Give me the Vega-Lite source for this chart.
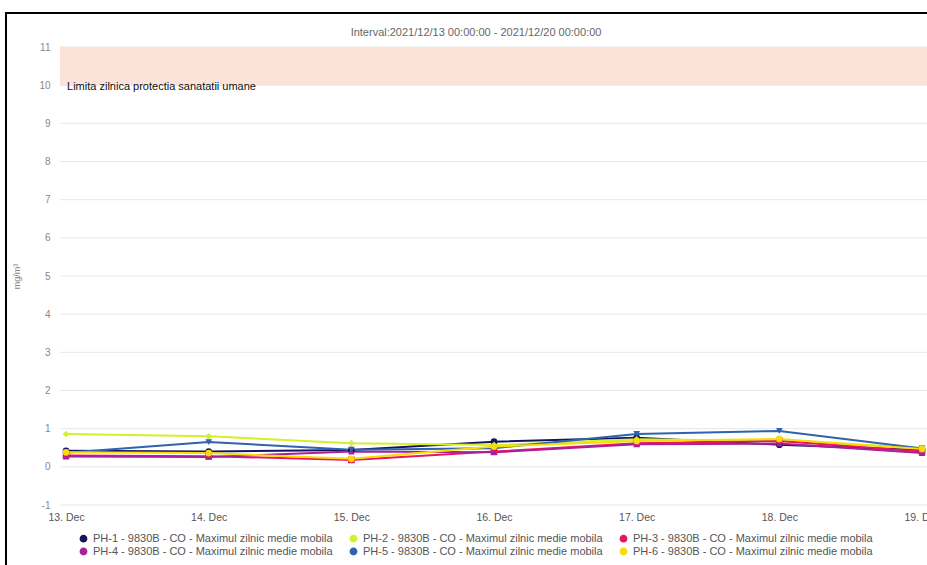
{
  "$schema": "https://vega.github.io/schema/vega-lite/v6.json",
  "width": 940,
  "height": 580,
  "autosize": {"type": "none"},
  "padding": {"left": 6, "top": 13, "right": 0, "bottom": 0},
  "background": "white",
  "config": {
    "font": "Liberation Sans",
    "view": {"stroke": "black", "strokeWidth": 2},
    "axis": {"grid": false, "domain": false, "ticks": false},
    "legend": {"orient": "none", "legendX": 72, "legendY": 520, "columns": 3, "direction": "horizontal",
               "labelFontSize": 11, "labelColor": "#555", "labelLimit": 400, "symbolSize": 40, "symbolType": "circle",
               "columnPadding": 14, "rowPadding": 0}
  },
  "title": {
    "text": "Interval:2021/12/13 00:00:00 - 2021/12/20 00:00:00",
    "offset": -25,
    "fontSize": 11,
    "fontWeight": "normal",
    "color": "#666",
    "anchor": "middle"
  },
  "data": {
    "values": [
      {"series": "PH-1 - 9830B - CO - Maximul zilnic medie mobila", "date": "2021-12-13T00:00:00Z", "value": 0.42},
      {"series": "PH-1 - 9830B - CO - Maximul zilnic medie mobila", "date": "2021-12-14T00:00:00Z", "value": 0.40},
      {"series": "PH-1 - 9830B - CO - Maximul zilnic medie mobila", "date": "2021-12-15T00:00:00Z", "value": 0.44},
      {"series": "PH-1 - 9830B - CO - Maximul zilnic medie mobila", "date": "2021-12-16T00:00:00Z", "value": 0.66},
      {"series": "PH-1 - 9830B - CO - Maximul zilnic medie mobila", "date": "2021-12-17T00:00:00Z", "value": 0.76},
      {"series": "PH-1 - 9830B - CO - Maximul zilnic medie mobila", "date": "2021-12-18T00:00:00Z", "value": 0.58},
      {"series": "PH-1 - 9830B - CO - Maximul zilnic medie mobila", "date": "2021-12-19T00:00:00Z", "value": 0.44},
      {"series": "PH-2 - 9830B - CO - Maximul zilnic medie mobila", "date": "2021-12-13T00:00:00Z", "value": 0.86},
      {"series": "PH-2 - 9830B - CO - Maximul zilnic medie mobila", "date": "2021-12-14T00:00:00Z", "value": 0.80},
      {"series": "PH-2 - 9830B - CO - Maximul zilnic medie mobila", "date": "2021-12-15T00:00:00Z", "value": 0.62},
      {"series": "PH-2 - 9830B - CO - Maximul zilnic medie mobila", "date": "2021-12-16T00:00:00Z", "value": 0.57},
      {"series": "PH-2 - 9830B - CO - Maximul zilnic medie mobila", "date": "2021-12-17T00:00:00Z", "value": 0.72},
      {"series": "PH-2 - 9830B - CO - Maximul zilnic medie mobila", "date": "2021-12-18T00:00:00Z", "value": 0.68},
      {"series": "PH-2 - 9830B - CO - Maximul zilnic medie mobila", "date": "2021-12-19T00:00:00Z", "value": 0.50},
      {"series": "PH-3 - 9830B - CO - Maximul zilnic medie mobila", "date": "2021-12-13T00:00:00Z", "value": 0.30},
      {"series": "PH-3 - 9830B - CO - Maximul zilnic medie mobila", "date": "2021-12-14T00:00:00Z", "value": 0.28},
      {"series": "PH-3 - 9830B - CO - Maximul zilnic medie mobila", "date": "2021-12-15T00:00:00Z", "value": 0.18},
      {"series": "PH-3 - 9830B - CO - Maximul zilnic medie mobila", "date": "2021-12-16T00:00:00Z", "value": 0.40},
      {"series": "PH-3 - 9830B - CO - Maximul zilnic medie mobila", "date": "2021-12-17T00:00:00Z", "value": 0.62},
      {"series": "PH-3 - 9830B - CO - Maximul zilnic medie mobila", "date": "2021-12-18T00:00:00Z", "value": 0.68},
      {"series": "PH-3 - 9830B - CO - Maximul zilnic medie mobila", "date": "2021-12-19T00:00:00Z", "value": 0.40},
      {"series": "PH-4 - 9830B - CO - Maximul zilnic medie mobila", "date": "2021-12-13T00:00:00Z", "value": 0.27},
      {"series": "PH-4 - 9830B - CO - Maximul zilnic medie mobila", "date": "2021-12-14T00:00:00Z", "value": 0.26},
      {"series": "PH-4 - 9830B - CO - Maximul zilnic medie mobila", "date": "2021-12-15T00:00:00Z", "value": 0.40},
      {"series": "PH-4 - 9830B - CO - Maximul zilnic medie mobila", "date": "2021-12-16T00:00:00Z", "value": 0.38},
      {"series": "PH-4 - 9830B - CO - Maximul zilnic medie mobila", "date": "2021-12-17T00:00:00Z", "value": 0.59},
      {"series": "PH-4 - 9830B - CO - Maximul zilnic medie mobila", "date": "2021-12-18T00:00:00Z", "value": 0.61},
      {"series": "PH-4 - 9830B - CO - Maximul zilnic medie mobila", "date": "2021-12-19T00:00:00Z", "value": 0.36},
      {"series": "PH-5 - 9830B - CO - Maximul zilnic medie mobila", "date": "2021-12-13T00:00:00Z", "value": 0.37},
      {"series": "PH-5 - 9830B - CO - Maximul zilnic medie mobila", "date": "2021-12-14T00:00:00Z", "value": 0.65},
      {"series": "PH-5 - 9830B - CO - Maximul zilnic medie mobila", "date": "2021-12-15T00:00:00Z", "value": 0.45},
      {"series": "PH-5 - 9830B - CO - Maximul zilnic medie mobila", "date": "2021-12-16T00:00:00Z", "value": 0.49},
      {"series": "PH-5 - 9830B - CO - Maximul zilnic medie mobila", "date": "2021-12-17T00:00:00Z", "value": 0.86},
      {"series": "PH-5 - 9830B - CO - Maximul zilnic medie mobila", "date": "2021-12-18T00:00:00Z", "value": 0.94},
      {"series": "PH-5 - 9830B - CO - Maximul zilnic medie mobila", "date": "2021-12-19T00:00:00Z", "value": 0.48},
      {"series": "PH-6 - 9830B - CO - Maximul zilnic medie mobila", "date": "2021-12-13T00:00:00Z", "value": 0.38},
      {"series": "PH-6 - 9830B - CO - Maximul zilnic medie mobila", "date": "2021-12-14T00:00:00Z", "value": 0.36},
      {"series": "PH-6 - 9830B - CO - Maximul zilnic medie mobila", "date": "2021-12-15T00:00:00Z", "value": 0.21},
      {"series": "PH-6 - 9830B - CO - Maximul zilnic medie mobila", "date": "2021-12-16T00:00:00Z", "value": 0.53},
      {"series": "PH-6 - 9830B - CO - Maximul zilnic medie mobila", "date": "2021-12-17T00:00:00Z", "value": 0.68},
      {"series": "PH-6 - 9830B - CO - Maximul zilnic medie mobila", "date": "2021-12-18T00:00:00Z", "value": 0.73},
      {"series": "PH-6 - 9830B - CO - Maximul zilnic medie mobila", "date": "2021-12-19T00:00:00Z", "value": 0.47}
    ]
  },
  "layer": [
    {
      "data": {"values": [{}]},
      "mark": {"type": "rect", "color": "#fbe3d9"},
      "encoding": {
        "x": {"datum": {"year": 2021, "month": 12, "date": 12, "hours": 23, "utc": true}, "type": "temporal", "title": null,
              "scale": {"type": "utc", "domain": [{"year": 2021, "month": 12, "date": 12, "hours": 13, "minutes": 54, "utc": true}, {"year": 2021, "month": 12, "date": 19, "hours": 4, "minutes": 2, "utc": true}]},
              "axis": {
                "values": [
                  {"year": 2021, "month": 12, "date": 13, "utc": true},
                  {"year": 2021, "month": 12, "date": 14, "utc": true},
                  {"year": 2021, "month": 12, "date": 15, "utc": true},
                  {"year": 2021, "month": 12, "date": 16, "utc": true},
                  {"year": 2021, "month": 12, "date": 17, "utc": true},
                  {"year": 2021, "month": 12, "date": 18, "utc": true},
                  {"year": 2021, "month": 12, "date": 19, "utc": true}
                ],
                "labelExpr": "utcFormat(datum.value, '%d. %b')",
                "offset": -88, "labelPadding": 7, "labelFlush": false,
                "labelColor": "#555", "labelFontSize": 10.5
              }},
        "x2": {"datum": {"year": 2021, "month": 12, "date": 19, "hours": 4, "minutes": 2, "utc": true}},
        "y": {"datum": 10, "type": "quantitative", "title": "mg/m³",
              "scale": {"domain": [-3.3055, 11.891], "nice": false, "zero": false},
              "axis": {
                "values": [-1, 0, 1, 2, 3, 4, 5, 6, 7, 8, 9, 10, 11],
                "labelExpr": "datum.value < 0 ? '-' + abs(datum.value) : '' + datum.value",
                "offset": -54, "labelPadding": 10,
                "labelColor": "#888", "labelFontSize": 10,
                "titleColor": "#888", "titleFontSize": 9, "titleFontWeight": "normal",
                "titlePadding": 17, "titleY": 263
              }},
        "y2": {"datum": 11}
      }
    },
    {
      "data": {"values": [{"v": -1}, {"v": 0}, {"v": 1}, {"v": 2}, {"v": 3}, {"v": 4}, {"v": 5}, {"v": 6}, {"v": 7}, {"v": 8}, {"v": 9}, {"v": 10}, {"v": 11}]},
      "mark": {"type": "rule", "color": "#e6e6e6", "strokeWidth": 1},
      "encoding": {
        "x": {"datum": {"year": 2021, "month": 12, "date": 12, "hours": 23, "utc": true}, "type": "temporal", "title": null,
              "scale": {"type": "utc", "domain": [{"year": 2021, "month": 12, "date": 12, "hours": 13, "minutes": 54, "utc": true}, {"year": 2021, "month": 12, "date": 19, "hours": 4, "minutes": 2, "utc": true}]}},
        "x2": {"datum": {"year": 2021, "month": 12, "date": 19, "hours": 4, "minutes": 2, "utc": true}},
        "y": {"field": "v", "type": "quantitative", "title": "mg/m³",
              "scale": {"domain": [-3.3055, 11.891], "nice": false, "zero": false}}
      }
    },
    {
      "data": {"values": [{"label": "Limita zilnica protectia sanatatii umane"}]},
      "mark": {"type": "text", "align": "left", "baseline": "middle", "fontSize": 11, "color": "#111", "dx": 1, "dy": 2},
      "encoding": {
        "x": {"datum": {"year": 2021, "month": 12, "date": 13, "utc": true}, "type": "temporal", "title": null,
              "scale": {"type": "utc", "domain": [{"year": 2021, "month": 12, "date": 12, "hours": 13, "minutes": 54, "utc": true}, {"year": 2021, "month": 12, "date": 19, "hours": 4, "minutes": 2, "utc": true}]}},
        "y": {"datum": 10, "type": "quantitative", "title": "mg/m³",
              "scale": {"domain": [-3.3055, 11.891], "nice": false, "zero": false}},
        "text": {"field": "label"}
      }
    },
    {
      "mark": {"type": "line", "strokeWidth": 2},
      "encoding": {
        "x": {"field": "date", "type": "temporal", "title": null,
              "scale": {"type": "utc", "domain": [{"year": 2021, "month": 12, "date": 12, "hours": 13, "minutes": 54, "utc": true}, {"year": 2021, "month": 12, "date": 19, "hours": 4, "minutes": 2, "utc": true}]}},
        "y": {"field": "value", "type": "quantitative", "title": "mg/m³",
              "scale": {"domain": [-3.3055, 11.891], "nice": false, "zero": false}},
        "color": {"field": "series", "type": "nominal", "title": null,
                  "scale": {"range": ["#15155f", "#d2f02c", "#e8175d", "#a8209a", "#2f63ad", "#f7dc0a"]}}
      }
    },
    {
      "mark": {"type": "point", "filled": true, "size": 45, "opacity": 1},
      "encoding": {
        "x": {"field": "date", "type": "temporal", "title": null,
              "scale": {"type": "utc", "domain": [{"year": 2021, "month": 12, "date": 12, "hours": 13, "minutes": 54, "utc": true}, {"year": 2021, "month": 12, "date": 19, "hours": 4, "minutes": 2, "utc": true}]}},
        "y": {"field": "value", "type": "quantitative", "title": "mg/m³",
              "scale": {"domain": [-3.3055, 11.891], "nice": false, "zero": false}},
        "color": {"field": "series", "type": "nominal", "title": null},
        "shape": {"field": "series", "type": "nominal", "title": null, "legend": null,
                  "scale": {"range": ["circle", "diamond", "square", "triangle-up", "triangle-down", "circle"]}}
      }
    }
  ]
}
